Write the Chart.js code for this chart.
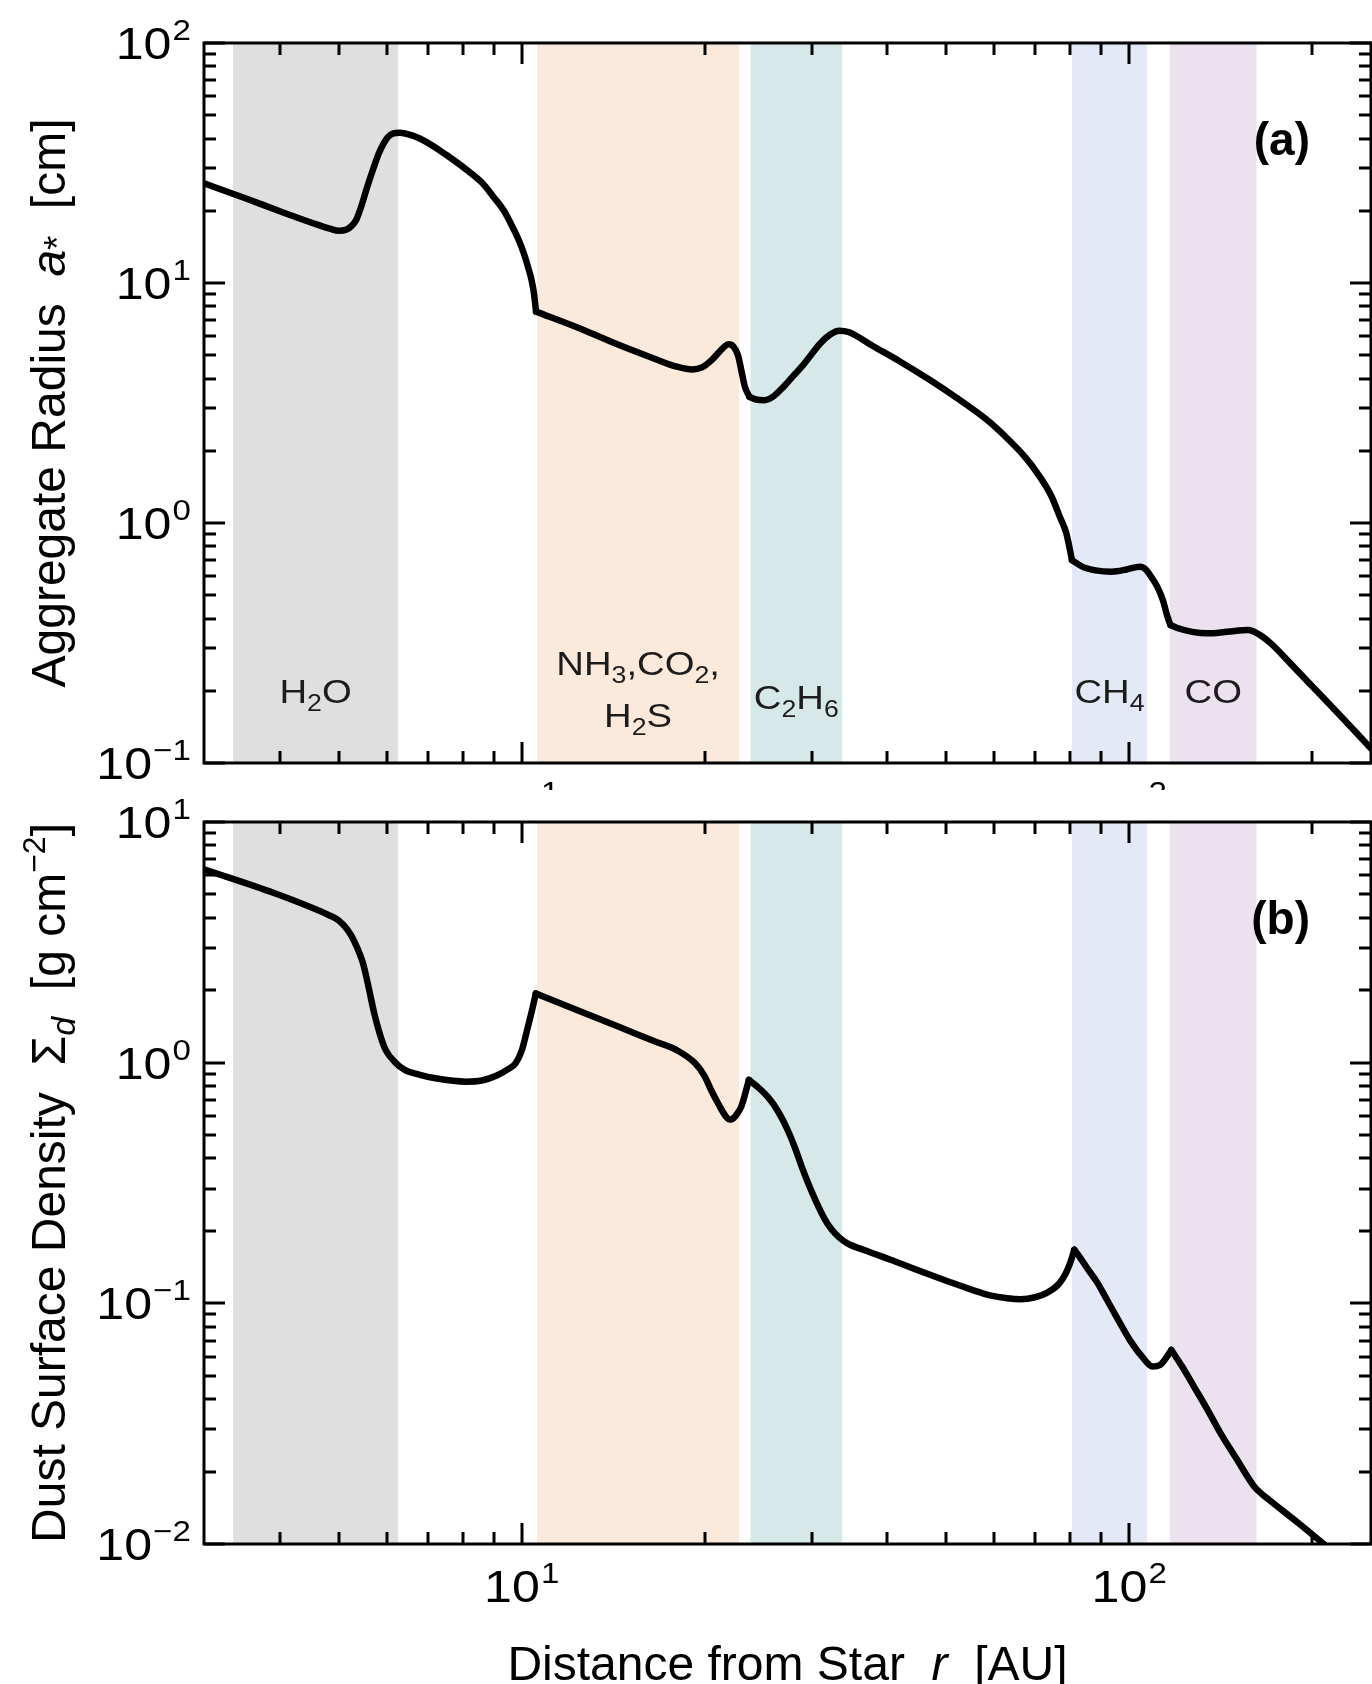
<!DOCTYPE html>
<html>
<head>
<meta charset="utf-8">
<script src="https://cdn.jsdelivr.net/npm/chart.js@4.4.1/dist/chart.umd.min.js"></script>
<style>
  html, body { margin: 0; padding: 0; background: #fff; }
  #page { position: relative; width: 1372px; height: 1684px; overflow: hidden; }
  #chartA { position: absolute; left: 0; top: 0; }
  #chartB { position: absolute; left: 0; top: 790px; }
</style>
</head>
<body>
<div id="page">
  <canvas id="chartA" width="1372" height="790"></canvas>
  <canvas id="chartB" width="1372" height="894"></canvas>
</div>
<script>
// ---- dados ----
// (a) raio do agregado a* [cm] em funcao de r [AU]
const radiusR = [3.0, 3.5, 4.0, 4.55, 4.85, 5.0, 5.15, 5.25, 5.34, 5.45, 5.57, 5.7, 5.82, 5.93, 6.03, 6.15, 6.3, 6.6, 7.03, 7.5,
  8.12, 8.6, 8.98, 9.35, 9.65, 9.9, 10.08, 10.25, 10.38, 10.48, 10.56, 12.5, 14.5, 16.5, 18.0, 19.1, 19.8, 20.5, 21.2, 21.6,
  21.9, 22.3, 22.7, 23.0, 23.3, 23.7, 24.3, 25.1, 26.0, 27.0, 28.0, 28.9, 30.0, 31.0, 32.2, 33.3, 34.5, 37.9, 42, 47.0,
  52, 58.3, 63, 67.3, 71, 74.5, 77, 78.8, 80.5, 84, 88, 93.6, 99, 104.2, 106.5, 109, 111.2, 113.5, 115.5, 116.9,
  120, 127, 134, 145, 156.9, 163, 171, 185, 203, 225, 250];
const radiusA = [26.0, 22.6, 19.9, 17.7, 16.8, 16.5, 16.7, 17.3, 18.3, 21.0, 25.2, 30.0, 34.7, 38.3, 40.7, 42.0, 42.3, 41.2, 38.2, 34.3,
  29.6, 26.2, 22.9, 20.0, 17.2, 15.0, 13.3, 11.6, 10.3, 9.0, 7.6, 6.45, 5.5, 4.85, 4.48, 4.36, 4.45, 4.75, 5.2, 5.45,
  5.55, 5.45, 5.0, 4.3, 3.7, 3.36, 3.27, 3.25, 3.38, 3.70, 4.1, 4.48, 5.05, 5.6, 6.1, 6.33, 6.25, 5.45, 4.7, 3.94,
  3.32, 2.69, 2.25, 1.89, 1.58, 1.29, 1.05, 0.906, 0.70, 0.655, 0.635, 0.627, 0.64, 0.658, 0.64, 0.59, 0.543, 0.48, 0.41, 0.376,
  0.365, 0.352, 0.347, 0.352, 0.358, 0.345, 0.315, 0.257, 0.201, 0.153, 0.115];
// indices dos pontos onde a curva faz quina
const radiusKinks = [30, 45, 68, 79];

// (b) densidade superficial de poeira Sigma_d [g cm^-2]
const sigmaR = [3.0, 3.92, 4.81, 5.0, 5.17, 5.3, 5.48, 5.6, 5.72, 5.85, 5.97, 6.2, 6.42, 6.8, 7.21, 8.1, 8.6, 9.1, 9.5, 9.77,
  10.0, 10.21, 10.4, 10.55, 12.5, 14.45, 16.5, 17.97, 19.3, 20.0, 20.5, 21.1, 21.7, 22.0, 22.3, 22.7, 23.0, 23.66, 24.5, 25.4,
  26.4, 27.4, 28.2, 28.9, 29.7, 30.6, 31.5, 32.4, 33.3, 34.3, 37, 40.7, 45, 50.5, 55, 59.0, 63, 66.2, 70, 73.2,
  76.5, 78.6, 80, 81.2, 83, 85.6, 88.5, 92.0, 96, 100.2, 105, 109.2, 112.4, 114.8, 117.3, 122, 127.8, 134, 141.3, 150,
  160.7, 165, 170.2, 190, 208, 213];
const sigmaD = [6.36, 5.06, 4.11, 3.9, 3.56, 3.2, 2.59, 2.05, 1.60, 1.3, 1.13, 1.0, 0.933, 0.89, 0.861, 0.834, 0.843, 0.884, 0.94, 0.994,
  1.12, 1.37, 1.65, 1.94, 1.63, 1.41, 1.23, 1.13, 0.994, 0.88, 0.77, 0.67, 0.596, 0.58, 0.587, 0.62, 0.66, 0.848, 0.79, 0.722,
  0.63, 0.525, 0.44, 0.370, 0.31, 0.261, 0.225, 0.202, 0.188, 0.178, 0.165, 0.151, 0.137, 0.123, 0.114, 0.108, 0.105, 0.104, 0.106, 0.1106,
  0.12, 0.133, 0.148, 0.167, 0.155, 0.138, 0.1225, 0.103, 0.085, 0.0705, 0.06, 0.0546, 0.0554, 0.059, 0.064, 0.055, 0.0451, 0.0368, 0.0289, 0.0227,
  0.0173, 0.0162, 0.0152, 0.0122, 0.0101, 0.0096];
const sigmaKinks = [23, 37, 63, 74];

// faixas das linhas de gelo (limites em AU)
const bandNames = ['H2O', 'NH3,CO2,|H2S', 'C2H6', 'CH4', 'CO'];
const bandLo = [3.35, 10.6, 23.8, 80.5, 116.7];
const bandHi = [6.26, 22.8, 33.7, 107, 162];

// ticks
const xMajorTicks = [10, 100];
const xMajorLabels = ['1', '2'];
const xMinorTicks = [4, 5, 6, 7, 8, 9, 20, 30, 40, 50, 60, 70, 80, 90, 200];
const topYTicks = [0.1, 1, 10, 100];
const topYLabels = ['\u22121', '0', '1', '2'];
const botYTicks = [0.01, 0.1, 1, 10];
const botYLabels = ['\u22122', '\u22121', '0', '1'];

// ---- estilos ----
const FONT = '"Liberation Sans", Arial, Helvetica, sans-serif';
const bandColors = ['#dfdfdf', '#fbeadc', '#d6e8e8', '#e4e9f7', '#ebe1ef'];
const bandTextY = [703, [675, 727], 709, 703, 703];
const TICK_STRETCH = 1.14;   // a fonte da figura original e mais larga
const BAND_STRETCH = 1.16;

function zip(xs, ys) {
  return xs.map((v, i) => ({ x: v, y: ys[i] }));
}

// separa a curva nas quinas, cada pedaco e suavizado sozinho
function pieces(xs, ys, kinks) {
  const cuts = [0, ...kinks, xs.length - 1];
  const out = [];
  for (let i = 0; i < cuts.length - 1; i++) {
    out.push(zip(xs.slice(cuts[i], cuts[i + 1] + 1), ys.slice(cuts[i], cuts[i + 1] + 1)));
  }
  return out;
}

// desenha "10" com expoente
function drawPow(ctx, exp, x, y, align) {
  ctx.font = '44px ' + FONT;
  const wb = ctx.measureText('10').width;
  ctx.font = '29px ' + FONT;
  const we = ctx.measureText(exp).width;
  const total = (wb + we + 1) * TICK_STRETCH;
  const x0 = align === 'right' ? x - total : x - total / 2;
  ctx.save();
  ctx.translate(x0, y);
  ctx.scale(TICK_STRETCH, 1);
  ctx.font = '44px ' + FONT;
  ctx.fillText('10', 0, 0);
  ctx.font = '29px ' + FONT;
  ctx.fillText(exp, wb + 1, -19);
  ctx.restore();
}

// texto com partes de fontes diferentes (centrado em cx)
function drawRich(ctx, segs, cx, cy, rotate, sx) {
  let total = 0;
  segs.forEach(s => { ctx.font = s.f; s.w = ctx.measureText(s.t).width; total += s.w; });
  ctx.save();
  ctx.translate(cx, cy);
  if (rotate) ctx.rotate(-Math.PI / 2);
  if (sx) ctx.scale(sx, 1);
  ctx.textAlign = 'left';
  ctx.textBaseline = 'alphabetic';
  let x = -total / 2;
  segs.forEach(s => { ctx.font = s.f; ctx.fillText(s.t, x, s.dy || 0); x += s.w; });
  ctx.restore();
}

// formula quimica: digitos em subscrito
function formulaSegs(str) {
  return str.split('').map(ch => /[0-9]/.test(ch)
    ? { t: ch, f: '23px ' + FONT, dy: 8 }
    : { t: ch, f: '33px ' + FONT });
}

function panelPlugin(cfg) {
  return {
    id: 'painel' + cfg.tag,
    beforeDatasetsDraw(chart) {
      const ctx = chart.ctx, a = chart.chartArea, xs = chart.scales.x;
      ctx.save();
      bandLo.forEach((lo, i) => {
        const x0 = xs.getPixelForValue(lo), x1 = xs.getPixelForValue(bandHi[i]);
        ctx.fillStyle = bandColors[i];
        ctx.fillRect(x0, a.top, x1 - x0, a.bottom - a.top);
      });
      if (cfg.bandLabels) {
        ctx.fillStyle = '#1c1c1c';
        bandNames.forEach((name, i) => {
          const cx = xs.getPixelForValue(Math.sqrt(bandLo[i] * bandHi[i]));
          name.split('|').forEach((ln, j) => {
            const y = Array.isArray(bandTextY[i]) ? bandTextY[i][j] : bandTextY[i];
            drawRich(ctx, formulaSegs(ln), cx, y, false, BAND_STRETCH);
          });
        });
      }
      ctx.restore();
    },
    afterDraw(chart) {
      const ctx = chart.ctx, a = chart.chartArea, xs = chart.scales.x, ys = chart.scales.y;
      ctx.save();
      ctx.strokeStyle = '#000';
      ctx.fillStyle = '#000';
      ctx.lineWidth = 3;
      ctx.strokeRect(a.left, a.top, a.right - a.left, a.bottom - a.top);

      ctx.beginPath();
      const xTick = (v, len) => {
        const px = Math.round(xs.getPixelForValue(v));
        ctx.moveTo(px, a.top); ctx.lineTo(px, a.top + len);
        ctx.moveTo(px, a.bottom); ctx.lineTo(px, a.bottom - len);
      };
      xMinorTicks.forEach(v => xTick(v, 12));
      xMajorTicks.forEach(v => xTick(v, 21));
      const yTick = (v, len) => {
        const py = Math.round(ys.getPixelForValue(v));
        ctx.moveTo(a.left, py); ctx.lineTo(a.left + len, py);
        ctx.moveTo(a.right, py); ctx.lineTo(a.right - len, py);
      };
      cfg.yTicks.forEach((d, i) => {
        yTick(d, 21);
        if (i < cfg.yTicks.length - 1) {
          for (let k = 2; k <= 9; k++) yTick(k * d, 12);
        }
      });
      ctx.stroke();

      // rotulos dos ticks
      ctx.textAlign = 'left';
      ctx.textBaseline = 'alphabetic';
      cfg.yTicks.forEach((d, i) => {
        drawPow(ctx, cfg.yLabels[i], 191, ys.getPixelForValue(d) + 16, 'right');
      });
      xMajorTicks.forEach((v, i) => {
        drawPow(ctx, xMajorLabels[i], xs.getPixelForValue(v), a.bottom + 58, 'center');
      });

      // titulo do eixo y
      drawRich(ctx, cfg.yTitle, 65, (a.top + a.bottom) / 2, true);

      // rotulo do painel
      ctx.font = 'bold 46px ' + FONT;
      ctx.textAlign = 'right';
      ctx.fillText(cfg.tag, 1310, a.top + 112);

      if (cfg.xTitle) {
        drawRich(ctx, cfg.xTitle, (a.left + a.right) / 2, 890, false);
      }
      ctx.restore();
    }
  };
}

function buildChart(id, parts, yMin, yMax, pad, cfg) {
  return new Chart(document.getElementById(id), {
    type: 'line',
    data: {
      datasets: parts.map(pts => ({
        data: pts,
        borderColor: '#000',
        borderWidth: 6.5,
        borderJoinStyle: 'round',
        borderCapStyle: 'round',
        pointRadius: 0,
        cubicInterpolationMode: 'monotone',
        fill: false
      }))
    },
    options: {
      responsive: false,
      devicePixelRatio: 1,
      animation: false,
      events: [],
      layout: { padding: pad },
      plugins: { legend: { display: false }, tooltip: { enabled: false } },
      scales: {
        x: { type: 'logarithmic', min: 3, max: 250, display: false },
        y: { type: 'logarithmic', min: yMin, max: yMax, display: false }
      }
    },
    plugins: [panelPlugin(cfg)]
  });
}

const big = '48px ' + FONT;
const bigIt = 'italic 48px ' + FONT;

window.onload = function () {
  buildChart('chartA', pieces(radiusR, radiusA, radiusKinks), 0.1, 100,
    { left: 204, right: 1, top: 43, bottom: 27 },
    {
      tag: '(a)', bandLabels: true, yTicks: topYTicks, yLabels: topYLabels,
      yTitle: [
        { t: 'Aggregate Radius  ', f: big },
        { t: 'a', f: bigIt },
        { t: '*', f: '36px ' + FONT, dy: 5 },
        { t: '  [cm]', f: big }
      ]
    });

  buildChart('chartB', pieces(sigmaR, sigmaD, sigmaKinks), 0.01, 10,
    { left: 204, right: 1, top: 32, bottom: 140 },
    {
      tag: '(b)', bandLabels: false, yTicks: botYTicks, yLabels: botYLabels,
      yTitle: [
        { t: 'Dust Surface Density  \u03A3', f: big },
        { t: 'd', f: 'italic 34px ' + FONT, dy: 10 },
        { t: '  [g cm', f: big },
        { t: '\u22122', f: '32px ' + FONT, dy: -20 },
        { t: ']', f: big }
      ],
      xTitle: [
        { t: 'Distance from Star  ', f: big },
        { t: 'r', f: bigIt },
        { t: '  [AU]', f: big }
      ]
    });
};
</script>
</body>
</html>
